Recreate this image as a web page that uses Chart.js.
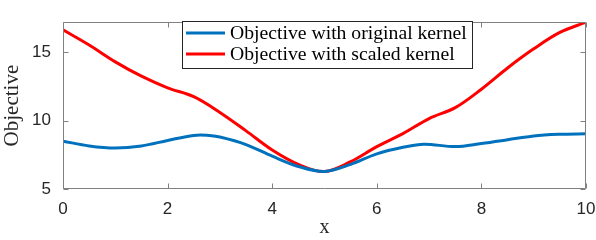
<!DOCTYPE html>
<html>
<head>
<meta charset="utf-8">
<script src="https://cdn.jsdelivr.net/npm/chart.js@4.4.0/dist/chart.umd.min.js"></script>
<style>
  html, body { margin: 0; padding: 0; background: #fff; }
  #wrap { width: 596px; height: 240px; position: relative; }
</style>
</head>
<body>
<div id="wrap"><canvas id="c" width="596" height="240"></canvas></div>
<script>
// ---- data ----
const xValues = [0, 0.5, 1, 1.5, 2, 2.5, 2.75, 3, 3.5, 4, 4.5, 5, 5.5, 6, 6.5, 6.9, 7.5, 8, 8.5, 9, 9.5, 10];
const originalKernel = [8.5, 8.15, 8.0, 8.15, 8.55, 8.92, 8.93, 8.8, 8.25, 7.4, 6.65, 6.28, 6.8, 7.57, 8.05, 8.28, 8.1, 8.33, 8.6, 8.88, 9.0, 9.04];
const scaledXValues = [0, 0.5, 1, 1.5, 2, 2.5, 3, 3.5, 4, 4.5, 5, 5.5, 6, 6.5, 7, 7.5, 8, 8.5, 9, 9.5, 10];
const scaledKernel = [16.64, 15.53, 14.3, 13.25, 12.4, 11.75, 10.6, 9.25, 7.85, 6.8, 6.28, 7.0, 8.1, 9.05, 10.15, 10.95, 12.3, 13.85, 15.25, 16.45, 17.2];
const xTicks = [0, 2, 4, 6, 8, 10];
const yTicks = [5, 10, 15];
const seriesLabels = ['Objective with original kernel', 'Objective with scaled kernel'];
const xTitle = 'x';
const yTitle = 'Objective';

const BLUE = '#0072BD';
const RED = '#FF0000';
const AXIS = '#808080';
const TXT = '#262626';

const toPoints = (xs, ys) => xs.map((x, i) => ({ x: x, y: ys[i] }));

const frame = {
  id: 'frame',
  afterDatasetsDraw(chart) {
    const ctx = chart.ctx;
    const a = chart.chartArea;
    const xs = chart.scales.x, ys = chart.scales.y;
    ctx.save();
    ctx.strokeStyle = AXIS;
    ctx.lineWidth = 1;
    const L = Math.round(a.left) + 0.5, R = Math.round(a.right) - 0.5;
    const T = Math.round(a.top) + 0.5, B = Math.round(a.bottom) - 0.5;
    ctx.beginPath();
    ctx.rect(L, T, R - L, B - T);
    ctx.stroke();
    const tl = 5;
    ctx.beginPath();
    xTicks.forEach(v => {
      const px = Math.round(xs.getPixelForValue(v)) + 0.5;
      ctx.moveTo(px, B); ctx.lineTo(px, B - tl);
      ctx.moveTo(px, T); ctx.lineTo(px, T + tl);
    });
    yTicks.forEach(v => {
      const py = Math.round(ys.getPixelForValue(v)) + 0.5;
      ctx.moveTo(L, py); ctx.lineTo(L + tl, py);
      ctx.moveTo(R, py); ctx.lineTo(R - tl, py);
    });
    ctx.stroke();

    // legend
    const bx = 182.5, by = 21.5, bw = 290, bh = 47;
    ctx.fillStyle = '#fff';
    ctx.fillRect(bx, by, bw, bh);
    ctx.strokeStyle = '#262626';
    ctx.strokeRect(bx, by, bw, bh);
    const colors = [BLUE, RED];
    const rowsY = [33, 54];
    let size = 18;
    ctx.font = size + 'px "Liberation Serif"';
    const w = ctx.measureText(seriesLabels[0]).width;
    size = size * 237 / w;
    ctx.font = size.toFixed(2) + 'px "Liberation Serif"';
    ctx.textBaseline = 'middle';
    ctx.textAlign = 'left';
    seriesLabels.forEach((lab, i) => {
      ctx.strokeStyle = colors[i];
      ctx.lineWidth = 3;
      ctx.beginPath();
      ctx.moveTo(186, rowsY[i]); ctx.lineTo(225, rowsY[i]);
      ctx.stroke();
      ctx.fillStyle = '#000';
      ctx.fillText(lab, 230, rowsY[i] + 1);
    });
    ctx.restore();
  }
};

new Chart(document.getElementById('c'), {
  type: 'line',
  data: {
    datasets: [
      { label: seriesLabels[0], data: toPoints(xValues, originalKernel), borderColor: BLUE, borderWidth: 3,
        pointRadius: 0, tension: 0.35, fill: false },
      { label: seriesLabels[1], data: toPoints(scaledXValues, scaledKernel), borderColor: RED, borderWidth: 3,
        pointRadius: 0, tension: 0.35, fill: false }
    ]
  },
  options: {
    responsive: false,
    animation: false,
    devicePixelRatio: 1,
    layout: { padding: { top: 4, right: 0, left: 0, bottom: 0 } },
    plugins: { legend: { display: false }, tooltip: { enabled: false } },
    scales: {
      x: {
        type: 'linear', min: 0, max: 10,
        afterBuildTicks: s => { s.ticks = xTicks.map(v => ({ value: v })); },
        afterFit: s => { s.height = 51; s.paddingRight = 10; },
        grid: { display: false, drawTicks: false },
        border: { display: false },
        ticks: { color: TXT, padding: 10, font: { family: '"Liberation Sans", Arial', size: 17 }, maxRotation: 0 },
        title: { display: true, text: xTitle, color: TXT, padding: { top: 8, bottom: 0 },
                 font: { family: '"Liberation Serif"', size: 20 } }
      },
      y: {
        type: 'linear', min: 5, max: 17.2,
        afterBuildTicks: s => { s.ticks = yTicks.map(v => ({ value: v })); },
        afterFit: s => { s.width = 63; },
        grid: { display: false, drawTicks: false },
        border: { display: false },
        ticks: { color: TXT, padding: 12, font: { family: '"Liberation Sans", Arial', size: 17 } },
        title: { display: true, text: yTitle, color: TXT, padding: { top: 0, bottom: 0 },
                 font: { family: '"Liberation Serif"', size: 21 } }
      }
    }
  },
  plugins: [frame]
});
</script>
</body>
</html>
